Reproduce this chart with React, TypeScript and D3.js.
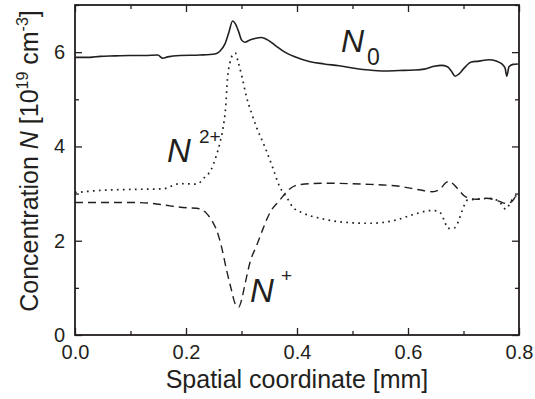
import React, { useRef, useEffect } from "react";
import * as d3 from "d3";

// [x in mm, concentration in 1e19 cm^-3]
const n0Data: [number, number][] = [
  [0.0, 5.89], [0.027, 5.89], [0.045, 5.91], [0.072, 5.92], [0.099, 5.93],
  [0.126, 5.93], [0.149, 5.94], [0.158, 5.87], [0.167, 5.9], [0.189, 5.93],
  [0.225, 5.94], [0.252, 5.96], [0.261, 6.02], [0.27, 6.17], [0.277, 6.41],
  [0.284, 6.66], [0.289, 6.6], [0.295, 6.43], [0.3, 6.26], [0.306, 6.21],
  [0.315, 6.26], [0.324, 6.29], [0.336, 6.31], [0.347, 6.26], [0.36, 6.15],
  [0.378, 6.0], [0.396, 5.9], [0.422, 5.8], [0.449, 5.75], [0.476, 5.71],
  [0.503, 5.66], [0.53, 5.62], [0.557, 5.6], [0.584, 5.61], [0.611, 5.62],
  [0.629, 5.64], [0.647, 5.7], [0.66, 5.72], [0.671, 5.69], [0.678, 5.6],
  [0.685, 5.49], [0.692, 5.54], [0.701, 5.66], [0.714, 5.79], [0.728, 5.81],
  [0.746, 5.84], [0.759, 5.81], [0.769, 5.75], [0.775, 5.66], [0.778, 5.49],
  [0.782, 5.69], [0.789, 5.74], [0.798, 5.75]
];

const n2Data: [number, number][] = [
  [0.0, 3.02], [0.05, 3.07], [0.111, 3.09], [0.158, 3.1], [0.189, 3.21],
  [0.219, 3.2], [0.234, 3.35], [0.245, 3.5], [0.254, 3.78], [0.261, 4.07],
  [0.267, 4.41], [0.271, 4.77], [0.275, 5.47], [0.279, 5.77], [0.284, 5.94],
  [0.289, 5.98], [0.294, 5.79], [0.301, 5.47], [0.309, 5.05], [0.318, 4.71],
  [0.327, 4.41], [0.342, 3.99], [0.356, 3.56], [0.369, 3.14], [0.381, 2.93],
  [0.392, 2.72], [0.41, 2.59], [0.44, 2.48], [0.471, 2.41], [0.5, 2.38],
  [0.53, 2.37], [0.579, 2.44], [0.608, 2.55], [0.642, 2.64], [0.656, 2.62],
  [0.665, 2.44], [0.672, 2.26], [0.685, 2.28], [0.692, 2.45], [0.698, 2.65],
  [0.707, 2.86], [0.723, 2.88], [0.751, 2.9], [0.768, 2.78], [0.776, 2.67],
  [0.787, 2.86], [0.796, 2.97]
];

const n1Data: [number, number][] = [
  [0.0, 2.81], [0.05, 2.81], [0.111, 2.81], [0.14, 2.79], [0.171, 2.74],
  [0.201, 2.7], [0.219, 2.69], [0.237, 2.58], [0.248, 2.4], [0.255, 2.23],
  [0.264, 1.87], [0.273, 1.38], [0.282, 0.95], [0.288, 0.68], [0.295, 0.59],
  [0.3, 0.74], [0.306, 1.06], [0.316, 1.57], [0.327, 1.89], [0.338, 2.23],
  [0.351, 2.59], [0.369, 2.86], [0.385, 3.08], [0.404, 3.19], [0.453, 3.22],
  [0.518, 3.2], [0.581, 3.16], [0.62, 3.08], [0.644, 3.04], [0.659, 3.11],
  [0.668, 3.23], [0.674, 3.26], [0.68, 3.22], [0.689, 3.11], [0.704, 2.93],
  [0.723, 2.88], [0.741, 2.9], [0.759, 2.86], [0.777, 2.79], [0.787, 2.83],
  [0.796, 2.99]
];

const xMajor = [0, 0.2, 0.4, 0.6, 0.8];
const xMinor = [0.1, 0.3, 0.5, 0.7];
const yMajor = [0, 2, 4, 6];
const yMinor = [1, 3, 5, 7];

const width = 535;
const height = 399;
const margin = { top: 5, right: 16, bottom: 64, left: 75 };
const font = "'Liberation Sans', Arial, sans-serif";
const ink = "#231f20";

function App() {
  const svgRef = useRef<SVGSVGElement>(null);

  const x = d3.scaleLinear().domain([0, 0.8]).range([margin.left, width - margin.right]);
  const y = d3.scaleLinear().domain([0, 7]).range([height - margin.bottom, margin.top]);

  const line = d3
    .line<[number, number]>()
    .x(d => x(d[0]))
    .y(d => y(d[1]))
    .curve(d3.curveMonotoneX);

  useEffect(() => {
    const svg = d3.select(svgRef.current);
    const bottom = height - margin.bottom;
    const right = width - margin.right;

    const style = (g: any) => {
      g.select(".domain").remove();
      g.selectAll("line").attr("stroke", ink).attr("stroke-width", 1.3);
      g.selectAll("text").attr("fill", ink).style("font-family", font).style("font-size", "20px");
    };

    svg.select<SVGGElement>(".x-axis")
      .attr("transform", `translate(0,${bottom})`)
      .call(d3.axisBottom(x).tickValues(xMajor).tickSize(-7).tickPadding(10).tickFormat(d3.format(".1f")))
      .call(style);
    svg.select<SVGGElement>(".x-minor")
      .attr("transform", `translate(0,${bottom})`)
      .call(d3.axisBottom(x).tickValues(xMinor).tickSize(-4).tickFormat(() => ""))
      .call(style);
    svg.select<SVGGElement>(".x-top")
      .attr("transform", `translate(0,${margin.top})`)
      .call(d3.axisTop(x).tickValues(xMajor).tickSize(-7).tickFormat(() => ""))
      .call(style);
    svg.select<SVGGElement>(".x-top-minor")
      .attr("transform", `translate(0,${margin.top})`)
      .call(d3.axisTop(x).tickValues(xMinor).tickSize(-4).tickFormat(() => ""))
      .call(style);

    svg.select<SVGGElement>(".y-axis")
      .attr("transform", `translate(${margin.left},0)`)
      .call(d3.axisLeft(y).tickValues(yMajor).tickSize(-7).tickPadding(10).tickFormat(d3.format("d")))
      .call(style);
    svg.select<SVGGElement>(".y-minor")
      .attr("transform", `translate(${margin.left},0)`)
      .call(d3.axisLeft(y).tickValues(yMinor).tickSize(-4).tickFormat(() => ""))
      .call(style);
    svg.select<SVGGElement>(".y-right")
      .attr("transform", `translate(${right},0)`)
      .call(d3.axisRight(y).tickValues(yMajor).tickSize(-7).tickFormat(() => ""))
      .call(style);
    svg.select<SVGGElement>(".y-right-minor")
      .attr("transform", `translate(${right},0)`)
      .call(d3.axisRight(y).tickValues(yMinor).tickSize(-4).tickFormat(() => ""))
      .call(style);
  }, []);

  const plotW = width - margin.left - margin.right;
  const plotH = height - margin.top - margin.bottom;

  return (
    <svg
      ref={svgRef}
      width={width}
      height={height}
      style={{ position: "absolute", left: 0, top: 0, background: "#fff" }}
    >
      <path d={line(n2Data) || ""} fill="none" stroke={ink} strokeWidth={1.7} strokeDasharray="1.7,4.3" />
      <path d={line(n1Data) || ""} fill="none" stroke={ink} strokeWidth={1.4} strokeDasharray="8,5" />
      <path d={line(n0Data) || ""} fill="none" stroke={ink} strokeWidth={1.6} />

      <g className="x-axis" />
      <g className="x-minor" />
      <g className="x-top" />
      <g className="x-top-minor" />
      <g className="y-axis" />
      <g className="y-minor" />
      <g className="y-right" />
      <g className="y-right-minor" />
      <rect
        x={margin.left}
        y={margin.top}
        width={plotW}
        height={plotH}
        fill="none"
        stroke={ink}
        strokeWidth={1.8}
      />

      {/* curve labels */}
      <g fill={ink} fontFamily={font}>
        <text x={341} y={52} fontSize={32} fontStyle="italic">N</text>
        <text x={367} y={65} fontSize={23}>0</text>
        <text x={167} y={162} fontSize={33} fontStyle="italic">N</text>
        <text x={199} y={143} fontSize={19}>2+</text>
        <text x={250} y={302} fontSize={33} fontStyle="italic">N</text>
        <text x={281} y={282} fontSize={19}>+</text>
      </g>

      <text
        x={(margin.left + width - margin.right) / 2}
        y={388}
        textAnchor="middle"
        fill={ink}
        fontFamily={font}
        fontSize={25}
      >
        Spatial coordinate [mm]
      </text>

      <text
        transform={`translate(38,161) rotate(-90)`}
        textAnchor="middle"
        fill={ink}
        fontFamily={font}
        fontSize={25}
      >
        Concentration <tspan fontStyle="italic">N</tspan> [10
        <tspan fontSize={16} dy={-10}>19</tspan>
        <tspan dy={10}> cm</tspan>
        <tspan fontSize={16} dy={-10}>-3</tspan>
        <tspan dy={10}>]</tspan>
      </text>
    </svg>
  );
}

export default App;
